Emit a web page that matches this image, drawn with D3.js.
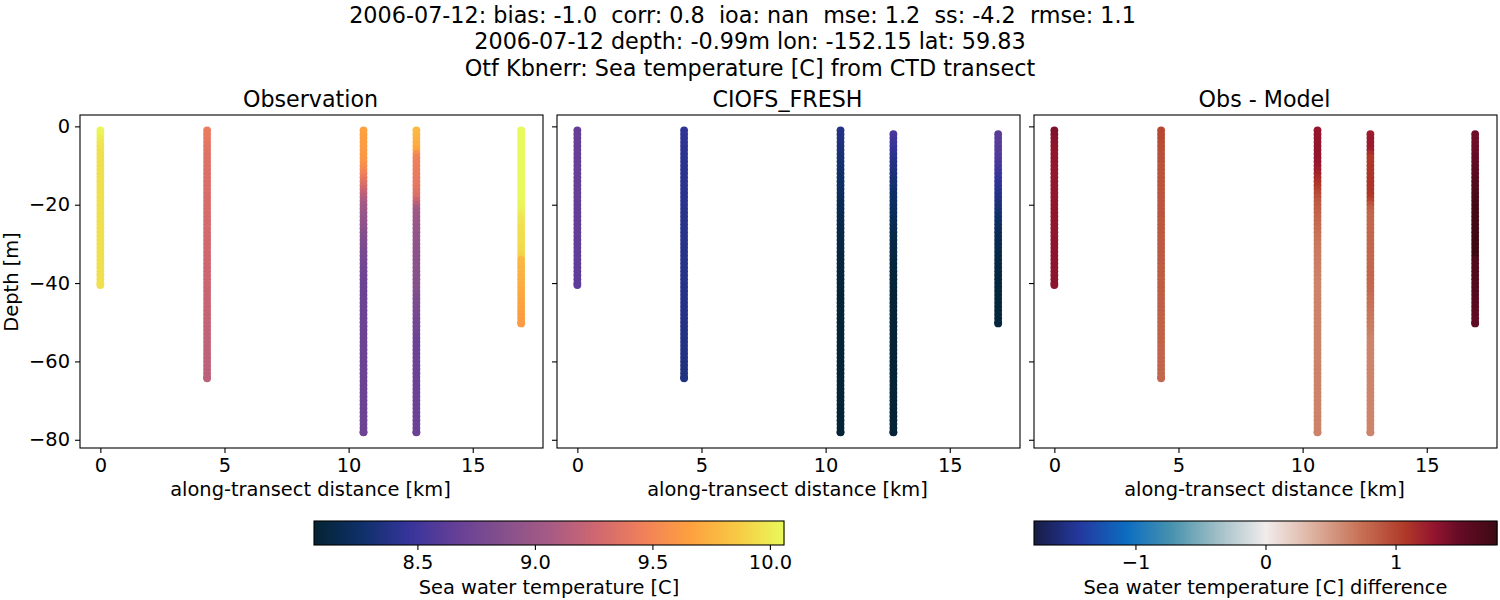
<!DOCTYPE html>
<html>
<head>
<meta charset="utf-8">
<script src="https://cdn.jsdelivr.net/npm/d3@7"></script>
<style>
body { margin: 0; background: #fff; }
svg { display: block; }
text { font-family: "DejaVu Sans", sans-serif; fill: #000; }
.tick text { font-size: 19.4px; }
</style>
</head>
<body>
<svg id="fig" width="1500" height="600"></svg>
<script>
// values
const titleLines = [
    "2006-07-12: bias: -1.0  corr: 0.8  ioa: nan  mse: 1.2  ss: -4.2  rmse: 1.1",
    "2006-07-12 depth: -0.99m lon: -152.15 lat: 59.83",
    "Otf Kbnerr: Sea temperature [C] from CTD transect"
];
const panelTitles = ["Observation", "CIOFS_FRESH", "Obs - Model"];

const castDistance = [0, 4.3, 10.6, 12.73, 16.95];

const depthLevels = [
    -1, -2, -3, -4, -5, -6, -7, -8, -9, -10, -11, -12, -13, -14, -15, -16, -17, -18, -19, -20,
    -21, -22, -23, -24, -25, -26, -27, -28, -29, -30, -31, -32, -33, -34, -35, -36, -37, -38, -39, -40,
    -41, -42, -43, -44, -45, -46, -47, -48, -49, -50, -51, -52, -53, -54, -55, -56, -57, -58, -59, -60,
    -61, -62, -63, -64, -65, -66, -67, -68, -69, -70, -71, -72, -73, -74, -75, -76, -77, -78
];

// index into depthLevels of the first sample in each cast
const obsFirstLevel = [0, 0, 0, 0, 0];
const modelFirstLevel = [0, 0, 0, 1, 1];
// the deepest sample of each cast is not on a whole metre
const castBottom = [-40.5, -64.3, -78.1, -78.1, -50.3];

const obsCast0 = [
    10.04, 10.03, 10.01, 9.99, 9.97, 9.96, 9.95, 9.95, 9.95, 9.95,
    9.95, 9.95, 9.95, 9.95, 9.95, 9.95, 9.95, 9.95, 9.95, 9.95,
    9.95, 9.95, 9.95, 9.95, 9.95, 9.95, 9.95, 9.95, 9.95, 9.95,
    9.95, 9.95, 9.95, 9.95, 9.95, 9.95, 9.95, 9.95, 9.95, 9.95
];
const obsCast1 = [
    9.43, 9.42, 9.41, 9.40, 9.38, 9.37, 9.36, 9.35, 9.35, 9.34,
    9.34, 9.33, 9.33, 9.33, 9.32, 9.32, 9.32, 9.31, 9.31, 9.31,
    9.30, 9.30, 9.30, 9.29, 9.29, 9.29, 9.28, 9.28, 9.28, 9.27,
    9.27, 9.27, 9.26, 9.26, 9.26, 9.25, 9.25, 9.25, 9.24, 9.24,
    9.24, 9.23, 9.23, 9.23, 9.22, 9.22, 9.22, 9.21, 9.21, 9.21,
    9.20, 9.20, 9.20, 9.19, 9.19, 9.19, 9.18, 9.18, 9.18, 9.17,
    9.17, 9.17, 9.16, 9.16
];
const obsCast2 = [
    9.66, 9.66, 9.65, 9.65, 9.64, 9.63, 9.62, 9.61, 9.59, 9.56,
    9.52, 9.47, 9.42, 9.37, 9.32, 9.26, 9.20, 9.14, 9.09, 9.05,
    9.02, 8.99, 8.96, 8.94, 8.92, 8.90, 8.88, 8.86, 8.84, 8.82,
    8.80, 8.79, 8.78, 8.77, 8.76, 8.75, 8.74, 8.73, 8.72, 8.71,
    8.71, 8.71, 8.71, 8.71, 8.71, 8.71, 8.71, 8.71, 8.71, 8.71,
    8.71, 8.71, 8.71, 8.71, 8.71, 8.71, 8.71, 8.71, 8.71, 8.71,
    8.71, 8.71, 8.71, 8.71, 8.71, 8.71, 8.71, 8.71, 8.71, 8.71,
    8.71, 8.71, 8.71, 8.71, 8.71, 8.71, 8.71, 8.71
];
const obsCast3 = [
    9.78, 9.77, 9.76, 9.74, 9.72, 9.68, 9.56, 9.48, 9.46, 9.45,
    9.44, 9.43, 9.42, 9.41, 9.40, 9.38, 9.36, 9.32, 9.25, 9.14,
    9.06, 9.02, 9.00, 8.99, 8.98, 8.97, 8.96, 8.95, 8.94, 8.93,
    8.92, 8.92, 8.91, 8.91, 8.90, 8.90, 8.89, 8.89, 8.88, 8.88,
    8.87, 8.86, 8.84, 8.82, 8.81, 8.80, 8.79, 8.78, 8.77, 8.76,
    8.75, 8.74, 8.72, 8.71, 8.70, 8.70, 8.70, 8.70, 8.70, 8.70,
    8.70, 8.70, 8.70, 8.70, 8.70, 8.70, 8.70, 8.70, 8.70, 8.70,
    8.70, 8.70, 8.70, 8.70, 8.70, 8.70, 8.70, 8.70
];
const obsCast4 = [
    10.06, 10.06, 10.06, 10.06, 10.06, 10.06, 10.06, 10.06, 10.06, 10.06,
    10.06, 10.06, 10.06, 10.06, 10.06, 10.06, 10.06, 10.06, 10.05, 10.04,
    10.03, 10.01, 9.99, 9.97, 9.96, 9.95, 9.95, 9.94, 9.94, 9.94,
    9.93, 9.92, 9.90, 9.78, 9.77, 9.76, 9.76, 9.75, 9.74, 9.73,
    9.72, 9.71, 9.70, 9.69, 9.68, 9.67, 9.66, 9.65, 9.64, 9.63
];

const modelCast0 = [
    8.66, 8.66, 8.66, 8.66, 8.66, 8.66, 8.66, 8.66, 8.66, 8.66,
    8.66, 8.66, 8.66, 8.66, 8.66, 8.66, 8.66, 8.66, 8.66, 8.65,
    8.65, 8.65, 8.65, 8.65, 8.65, 8.65, 8.65, 8.65, 8.64, 8.64,
    8.64, 8.64, 8.64, 8.64, 8.64, 8.64, 8.64, 8.63, 8.63, 8.63
];
const modelCast1 = [
    8.44, 8.44, 8.43, 8.43, 8.43, 8.42, 8.42, 8.42, 8.42, 8.42,
    8.42, 8.42, 8.41, 8.41, 8.41, 8.41, 8.41, 8.41, 8.41, 8.41,
    8.40, 8.40, 8.40, 8.40, 8.40, 8.40, 8.40, 8.40, 8.40, 8.40,
    8.39, 8.39, 8.39, 8.39, 8.39, 8.39, 8.39, 8.39, 8.39, 8.39,
    8.38, 8.38, 8.38, 8.38, 8.38, 8.38, 8.38, 8.38, 8.38, 8.38,
    8.37, 8.37, 8.37, 8.37, 8.37, 8.37, 8.37, 8.37, 8.37, 8.36,
    8.36, 8.36, 8.36, 8.36
];
const modelCast2 = [
    8.38, 8.37, 8.36, 8.35, 8.34, 8.33, 8.32, 8.31, 8.30, 8.29,
    8.28, 8.27, 8.26, 8.25, 8.24, 8.23, 8.22, 8.21, 8.20, 8.19,
    8.18, 8.17, 8.16, 8.16, 8.15, 8.15, 8.14, 8.14, 8.13, 8.13,
    8.12, 8.12, 8.11, 8.11, 8.10, 8.10, 8.10, 8.09, 8.09, 8.09,
    8.09, 8.09, 8.08, 8.08, 8.08, 8.08, 8.08, 8.08, 8.08, 8.08,
    8.08, 8.08, 8.08, 8.08, 8.08, 8.08, 8.08, 8.08, 8.08, 8.08,
    8.08, 8.08, 8.08, 8.08, 8.08, 8.08, 8.08, 8.08, 8.08, 8.08,
    8.08, 8.08, 8.08, 8.08, 8.08, 8.08, 8.08, 8.08
];
const modelCast3 = [
    8.53, 8.51, 8.49, 8.47, 8.44, 8.42, 8.40, 8.38, 8.36, 8.35,
    8.33, 8.32, 8.30, 8.29, 8.28, 8.26, 8.25, 8.24, 8.23, 8.22,
    8.21, 8.20, 8.19, 8.18, 8.17, 8.16, 8.15, 8.14, 8.13, 8.13,
    8.12, 8.12, 8.11, 8.11, 8.10, 8.10, 8.09, 8.09, 8.09, 8.09,
    8.08, 8.08, 8.08, 8.08, 8.08, 8.08, 8.08, 8.08, 8.08, 8.08,
    8.08, 8.08, 8.08, 8.08, 8.08, 8.08, 8.08, 8.08, 8.08, 8.08,
    8.08, 8.08, 8.08, 8.08, 8.08, 8.08, 8.08, 8.08, 8.08, 8.08,
    8.08, 8.08, 8.08, 8.08, 8.08, 8.08, 8.08
];
const modelCast4 = [
    8.61, 8.61, 8.60, 8.60, 8.59, 8.58, 8.57, 8.55, 8.53, 8.51,
    8.49, 8.47, 8.45, 8.43, 8.41, 8.39, 8.37, 8.35, 8.33, 8.31,
    8.29, 8.27, 8.25, 8.24, 8.22, 8.21, 8.19, 8.18, 8.17, 8.16,
    8.15, 8.14, 8.13, 8.13, 8.12, 8.12, 8.11, 8.11, 8.11, 8.10,
    8.10, 8.10, 8.10, 8.10, 8.10, 8.10, 8.10, 8.10, 8.10
];

const obsCasts = [obsCast0, obsCast1, obsCast2, obsCast3, obsCast4];
const modelCasts = [modelCast0, modelCast1, modelCast2, modelCast3, modelCast4];

const distTicks = [0, 5, 10, 15];
const depthTicks = [0, -20, -40, -60, -80];
const tempTicks = [8.5, 9.0, 9.5, 10.0];
const diffTicks = [-1, 0, 1];

// thermal and balance colormaps
const thermalPos = [0, .1, .2, .3, .4, .5, .6, .7, .8, .9, 1];
const thermalStops = ["#042333", "#0e3068", "#35349b", "#653f97", "#84508c", "#a65b85", "#cf6770", "#f0805a", "#fda03f", "#f8c944", "#e8fa5b"];
const balancePos = [0, .1, .2, .3, .4, .5, .6, .7, .8, .86, .92, 1];
const balanceStops = ["#181c43", "#2439a0", "#0c6dc0", "#4a93ae", "#a3c0c8", "#f1ecec", "#deb3a2", "#c87458", "#b03a28", "#96162f", "#650b26", "#3c0912"];

const tempRange = [8.06, 10.06];
const diffRange = [-1.78, 1.78];

const svg = d3.select("#fig");

function makeCmap(pos, stops, range) {
    const dom = pos.map(p => range[0] + (range[1] - range[0]) * p);
    return d3.scaleLinear().domain(dom).range(stops).clamp(true);
}
const tempColor = makeCmap(thermalPos, thermalStops, tempRange);
const diffColor = makeCmap(balancePos, balanceStops, diffRange);

// build the points of each panel
const obsPoints = [], modelPoints = [], diffPoints = [];
castDistance.forEach((dist, c) => {
    const obs = obsCasts[c], model = modelCasts[c];
    obs.forEach((v, i) => {
        obsPoints.push({ dist: dist, depth: depthLevels[i + obsFirstLevel[c]], value: v });
    });
    obsPoints.push({ dist: dist, depth: castBottom[c], value: obs[obs.length - 1] });

    model.forEach((v, i) => {
        const level = i + modelFirstLevel[c];
        const diff = obs[level - obsFirstLevel[c]] - v;
        modelPoints.push({ dist: dist, depth: depthLevels[level], value: v });
        diffPoints.push({ dist: dist, depth: depthLevels[level], value: diff });
    });
    const lastModel = model[model.length - 1];
    modelPoints.push({ dist: dist, depth: castBottom[c], value: lastModel });
    diffPoints.push({ dist: dist, depth: castBottom[c], value: obs[obs.length - 1] - lastModel });
});

const panelLeft = [80, 557, 1034];
const panelWidth = 463;
const panelTop = 115, panelBottom = 448;

const y = d3.scaleLinear().domain([-82.1, 2.9]).range([panelBottom, panelTop]);

function drawPanel(idx, points, color) {
    const x = d3.scaleLinear().domain([-0.82, 17.83]).range([0, panelWidth]);
    const g = svg.append("g").attr("transform", `translate(${panelLeft[idx]},0)`);

    g.append("g").selectAll("circle")
        .data(points)
        .enter()
        .append("circle")
        .attr("cx", d => x(d.dist))
        .attr("cy", d => y(d.depth))
        .attr("r", 3.9)
        .attr("fill", d => color(d.value));

    g.append("rect")
        .attr("x", 0).attr("y", panelTop)
        .attr("width", panelWidth).attr("height", panelBottom - panelTop)
        .attr("fill", "none").attr("stroke", "#000").attr("stroke-width", 1.1);

    const xAxis = d3.axisBottom(x).tickValues(distTicks).tickFormat(d3.format("d")).tickSize(5).tickPadding(5);
    const xg = g.append("g").attr("transform", `translate(0,${panelBottom})`).call(xAxis);
    xg.select(".domain").remove();
    xg.selectAll("line").attr("stroke", "#000").attr("stroke-width", 1.1);

    const yAxis = d3.axisLeft(y).tickValues(depthTicks).tickFormat(idx == 0 ? d3.format("d") : "").tickSize(5).tickPadding(5);
    const yg = g.append("g").call(yAxis);
    yg.select(".domain").remove();
    yg.selectAll("line").attr("stroke", "#000").attr("stroke-width", 1.1);

    g.append("text")
        .attr("x", panelWidth / 2 - 1).attr("y", 107)
        .attr("text-anchor", "middle").style("font-size", "22.2px")
        .text(panelTitles[idx]);

    g.append("text")
        .attr("x", panelWidth / 2 - 1).attr("y", 496)
        .attr("text-anchor", "middle").style("font-size", "19.4px")
        .text("along-transect distance [km]");
}

drawPanel(0, obsPoints, tempColor);
drawPanel(1, modelPoints, tempColor);
drawPanel(2, diffPoints, diffColor);

svg.append("text")
    .attr("transform", "translate(18,282) rotate(-90)")
    .attr("text-anchor", "middle").style("font-size", "19.4px")
    .text("Depth [m]");

// suptitle
titleLines.forEach((line, i) => {
    svg.append("text")
        .attr("x", [742.5, 750, 750][i]).attr("y", 23 + i * 26.4)
        .attr("text-anchor", "middle").style("font-size", "22.3px").style("white-space", "pre")
        .attr("xml:space", "preserve")
        .text(line);
});

function drawColorbar(left, width, range, color, ticks, fmt, label) {
    const top = 521, h = 24;
    const x = d3.scaleLinear().domain(range).range([left, left + width]);
    const g = svg.append("g");
    g.selectAll("rect")
        .data(d3.range(left, left + width))
        .enter()
        .append("rect")
        .attr("x", d => d).attr("y", top)
        .attr("width", 1.5).attr("height", h)
        .attr("fill", d => color(x.invert(d + 0.5)));
    g.append("rect")
        .attr("x", left).attr("y", top).attr("width", width).attr("height", h)
        .attr("fill", "none").attr("stroke", "#000").attr("stroke-width", 1.1);
    const axis = d3.axisBottom(x).tickValues(ticks).tickFormat(fmt).tickSize(5).tickPadding(5);
    const ag = svg.append("g").attr("transform", `translate(0,${top + h})`).call(axis);
    ag.select(".domain").remove();
    ag.selectAll("line").attr("stroke", "#000").attr("stroke-width", 1.1);
    svg.append("text")
        .attr("x", left + width / 2).attr("y", 594)
        .attr("text-anchor", "middle").style("font-size", "19.4px")
        .text(label);
}

drawColorbar(314, 470, tempRange, tempColor, tempTicks, d3.format(".1f"), "Sea water temperature [C]");
drawColorbar(1034, 463, diffRange, diffColor, diffTicks, d3.format("d"), "Sea water temperature [C] difference");
</script>
</body>
</html>
